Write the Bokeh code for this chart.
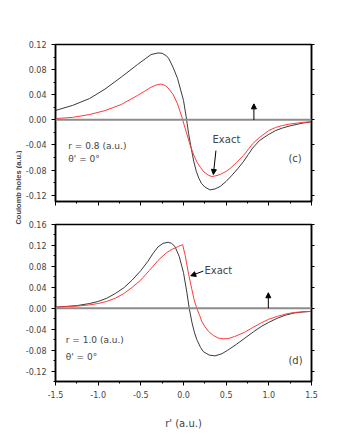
import math
from bokeh.plotting import figure
from bokeh.layouts import row, column
from bokeh.models import (Range1d, FixedTicker, PrintfTickFormatter, LinearAxis,
                          Span, Label, Arrow, NormalHead)
from bokeh.embed import file_html
from bokeh.resources import INLINE

# ---------------- data ----------------
c_black_x = [-1.5, -1.3, -1.1, -0.92, -0.73, -0.54, -0.45, -0.38, -0.3, -0.25, -0.2, -0.17,
             -0.12, -0.07, -0.03, 0.0, 0.03, 0.06, 0.09, 0.12, 0.15, 0.18, 0.21, 0.25, 0.31,
             0.37, 0.43, 0.5, 0.57, 0.64, 0.7, 0.76, 0.81, 0.89, 1.0, 1.08, 1.16, 1.25, 1.32,
             1.4, 1.5]
c_black_y = [0.015, 0.023, 0.034, 0.049, 0.068, 0.088, 0.097, 0.104, 0.1065, 0.106, 0.102,
             0.097, 0.083, 0.066, 0.046, 0.031, 0.006, -0.022, -0.045, -0.066, -0.082, -0.093,
             -0.101, -0.107, -0.1115, -0.110, -0.106, -0.098, -0.088, -0.077, -0.067, -0.055,
             -0.045, -0.033, -0.023, -0.017, -0.013, -0.0095, -0.0075, -0.005, -0.003]

c_red_x = [-1.5, -1.3, -1.1, -0.92, -0.73, -0.54, -0.45, -0.38, -0.32, -0.265, -0.21, -0.17,
           -0.12, -0.07, -0.02, 0.02, 0.08, 0.12, 0.16, 0.2, 0.24, 0.29, 0.33, 0.38, 0.43, 0.5,
           0.55, 0.62, 0.7, 0.76, 0.81, 0.89, 1.0, 1.08, 1.16, 1.25, 1.32, 1.4, 1.5]
c_red_y = [0.002, 0.004, 0.0085, 0.0148, 0.0244, 0.0387, 0.046, 0.052, 0.0555, 0.057, 0.0545,
           0.049, 0.040, 0.0255, 0.005, -0.014, -0.041, -0.056, -0.068, -0.076, -0.083, -0.088,
           -0.0903, -0.089, -0.087, -0.082, -0.077, -0.068, -0.057, -0.047, -0.038, -0.028,
           -0.017, -0.012, -0.009, -0.0065, -0.0054, -0.004, -0.003]

d_black_x = [-1.5, -1.25, -1.1, -1.0, -0.9, -0.8, -0.7, -0.6, -0.5, -0.42, -0.36, -0.3, -0.24,
             -0.18, -0.14, -0.1, -0.05, 0.0, 0.04, 0.067, 0.1, 0.13, 0.156, 0.2, 0.233, 0.3,
             0.37, 0.45, 0.52, 0.62, 0.72, 0.82, 0.91, 1.0, 1.1, 1.2, 1.3, 1.4, 1.5]
d_black_y = [0.002, 0.005, 0.009, 0.013, 0.019, 0.028, 0.039, 0.054, 0.072, 0.089, 0.104,
             0.117, 0.124, 0.126, 0.124, 0.118, 0.099, 0.068, 0.0295, 0.0, -0.028, -0.047,
             -0.060, -0.075, -0.083, -0.0895, -0.091, -0.087, -0.080, -0.069, -0.057, -0.045,
             -0.035, -0.027, -0.019, -0.013, -0.009, -0.007, -0.006]

d_red_x = [-1.5, -1.25, -1.1, -1.0, -0.9, -0.8, -0.7, -0.6, -0.5, -0.4, -0.3, -0.2, -0.13,
           -0.06, -0.01, 0.021, 0.06, 0.098, 0.125, 0.156, 0.19, 0.214, 0.25, 0.291, 0.35,
           0.407, 0.47, 0.523, 0.6, 0.716, 0.81, 0.91, 1.0, 1.1, 1.2, 1.3, 1.4, 1.5]
d_red_y = [0.002, 0.004, 0.0065, 0.009, 0.013, 0.019, 0.028, 0.040, 0.054, 0.072, 0.091,
           0.106, 0.113, 0.118, 0.1215, 0.100, 0.065, 0.036, 0.016, 0.0, -0.014, -0.025,
           -0.035, -0.044, -0.052, -0.057, -0.0585, -0.058, -0.054, -0.046, -0.037, -0.028,
           -0.021, -0.0155, -0.011, -0.008, -0.007, -0.006]

x_ticks = [-1.5, -1.0, -0.5, 0.0, 0.5, 1.0, 1.5]
x_minor = [-1.25, -0.75, -0.25, 0.25, 0.75, 1.25]
c_y_ticks = [-0.12, -0.08, -0.04, 0.0, 0.04, 0.08, 0.12]
d_y_ticks = [-0.12, -0.08, -0.04, 0.0, 0.04, 0.08, 0.12, 0.16]

FONT = "DejaVu Sans"
BLACK_C = "#3a3a3a"
RED_C = "#ff3b3b"


def make_panel(height, top_border, bottom_border, yr, yticks, show_xlabels):
    p = figure(width=315, height=height, output_backend="svg", toolbar_location=None,
               x_range=Range1d(-1.5, 1.5), y_range=Range1d(*yr),
               min_border_left=30, min_border_right=26,
               min_border_top=top_border, min_border_bottom=bottom_border)
    p.grid.visible = False
    p.outline_line_color = "black"
    p.outline_line_width = 1.5
    p.background_fill_color = "white"
    p.border_fill_color = "white"

    lo, hi = yr
    yminor = [round(t + 0.02, 3) for t in yticks[:-1]]
    yminor += [round(yticks[0] - 0.02, 3), round(yticks[-1] + 0.02, 3)]
    yminor = [m for m in yminor if lo <= m <= hi]

    ax = p.yaxis[0]
    ax.ticker = FixedTicker(ticks=yticks, minor_ticks=yminor)
    ax.formatter = PrintfTickFormatter(format="%.2f")
    ax.major_tick_out = 4
    ax.major_tick_in = 0
    ax.minor_tick_out = 2
    ax.minor_tick_in = 0
    ax.axis_line_width = 1.5
    ax.major_tick_line_width = 1
    ax.major_label_text_font = FONT
    ax.major_label_text_font_size = "8px"
    ax.major_label_standoff = 5

    rax = LinearAxis(ticker=FixedTicker(ticks=yticks, minor_ticks=yminor),
                     major_label_overrides={t: "" for t in yticks})
    rax.major_tick_out = 3
    rax.major_tick_in = 0
    rax.minor_tick_out = 0
    rax.minor_tick_in = 0
    rax.axis_line_width = 1.5
    rax.major_label_standoff = 0
    p.add_layout(rax, "right")

    xa = p.xaxis[0]
    xa.ticker = FixedTicker(ticks=x_ticks, minor_ticks=x_minor)
    xa.formatter = PrintfTickFormatter(format="%.1f")
    xa.major_tick_out = 4
    xa.major_tick_in = 0
    xa.minor_tick_out = 2
    xa.minor_tick_in = 0
    xa.axis_line_width = 1.5
    xa.major_label_text_font = FONT
    xa.major_label_text_font_size = "8px"
    if show_xlabels:
        xa.major_label_standoff = 5
        xa.axis_label = "r' (a.u.)"
        xa.axis_label_text_font = FONT
        xa.axis_label_text_font_size = "10px"
        xa.axis_label_text_font_style = "normal"
        xa.axis_label_standoff = 17
    else:
        xa.major_label_overrides = {t: "" for t in x_ticks}
        xa.major_label_standoff = 0

    p.add_layout(Span(location=0, dimension="width", line_color="#8c8c8c", line_width=2))
    return p


def head():
    return NormalHead(size=5, fill_color="black", line_color="black")


# ---------- top panel (c) ----------
p1 = make_panel(212, 44, 11, (-0.13, 0.12), c_y_ticks, False)
p1.line(c_black_x, c_black_y, line_color=BLACK_C, line_width=1)
p1.line(c_red_x, c_red_y, line_color=RED_C, line_width=1)
p1.add_layout(Arrow(end=head(), x_start=0.825, y_start=0.0, x_end=0.825, y_end=0.0255,
                    line_color="black", line_width=1))
p1.add_layout(Arrow(end=head(), x_start=0.38, y_start=-0.049, x_end=0.35, y_end=-0.087,
                    line_color="black", line_width=1))
p1.add_layout(Label(x=0.34, y=-0.031, text="Exact", text_font=FONT, text_font_size="10px",
                    text_baseline="middle", text_align="left"))
p1.add_layout(Label(x=1.23, y=-0.062, text="(c)", text_font=FONT, text_font_size="10px",
                    text_baseline="middle", text_align="left"))
p1.add_layout(Label(x=-1.35, y=-0.041, text="r = 0.8 (a.u.)", text_font=FONT,
                    text_font_size="9px", text_baseline="middle", text_align="left"))
p1.add_layout(Label(x=-1.35, y=-0.063, text="\u03b8' = 0\u00b0", text_font=FONT,
                    text_font_size="9px", text_baseline="middle", text_align="left"))

# ---------- bottom panel (d) ----------
p2 = make_panel(227, 12, 58, (-0.14, 0.16), d_y_ticks, True)
p2.line(d_black_x, d_black_y, line_color=BLACK_C, line_width=1)
p2.line(d_red_x, d_red_y, line_color=RED_C, line_width=1)
p2.add_layout(Arrow(end=head(), x_start=0.994, y_start=0.0, x_end=0.994, y_end=0.0295,
                    line_color="black", line_width=1))
p2.add_layout(Arrow(end=head(), x_start=0.233, y_start=0.071, x_end=0.085, y_end=0.062,
                    line_color="black", line_width=1))
p2.add_layout(Label(x=0.245, y=0.073, text="Exact", text_font=FONT, text_font_size="10px",
                    text_baseline="middle", text_align="left"))
p2.add_layout(Label(x=1.23, y=-0.099, text="(d)", text_font=FONT, text_font_size="10px",
                    text_baseline="middle", text_align="left"))
p2.add_layout(Label(x=-1.38, y=-0.06, text="r = 1.0 (a.u.)", text_font=FONT,
                    text_font_size="9px", text_baseline="middle", text_align="left"))
p2.add_layout(Label(x=-1.38, y=-0.0925, text="\u03b8' = 0\u00b0", text_font=FONT,
                    text_font_size="9px", text_baseline="middle", text_align="left"))

# ---------- shared y-axis title ----------
lab = figure(width=22, height=439, output_backend="svg", toolbar_location=None,
             x_range=Range1d(0, 1), y_range=Range1d(0, 1),
             x_axis_type=None, y_axis_type=None, min_border=0)
lab.grid.visible = False
lab.outline_line_color = None
lab.add_layout(Label(x=0.8, y=0.574, text="Coulomb holes (a.u.)", angle=math.pi / 2,
                     text_font="Liberation Sans", text_font_size="7.5px",
                     text_font_style="bold", text_align="center", text_baseline="middle"))

layout = row(lab, column(p1, p2))

with open("out.html", "w") as f:
    f.write(file_html(layout, INLINE))
